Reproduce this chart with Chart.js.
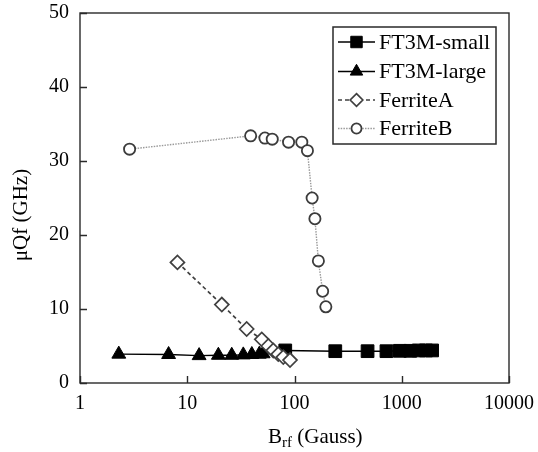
<!DOCTYPE html>
<html>
<head>
<meta charset="utf-8">
<script src="https://cdn.jsdelivr.net/npm/chart.js"></script>
<style>
  html, body { margin: 0; padding: 0; background: #fff; }
  #wrap { width: 538px; height: 452px; }
</style>
</head>
<body>
<div id="wrap"><canvas id="c" width="538" height="452"></canvas></div>
<script>
// ---- data ----
const seriesNames = ["FT3M-small", "FT3M-large", "FerriteA", "FerriteB"];

const ft3mSmallX = [82, 240, 480, 720, 960, 1200, 1440, 1680, 1920];
const ft3mSmallY = [4.4, 4.3, 4.3, 4.3, 4.35, 4.35, 4.4, 4.4, 4.4];

const ft3mLargeX = [2.3, 6.7, 12.9, 19.5, 26, 33.3, 40, 47, 51];
const ft3mLargeY = [3.9, 3.85, 3.7, 3.75, 3.75, 3.8, 3.85, 3.9, 3.95];

const ferriteAX = [8.1, 21, 35.8, 49.5, 57, 63.4, 70.6, 78.6, 90.8];
const ferriteAY = [16.3, 10.6, 7.3, 5.9, 5.0, 4.4, 3.9, 3.5, 3.1];

const ferriteBX = [2.9, 39, 53, 62, 88, 117, 132, 146, 155, 167, 183, 196];
const ferriteBY = [31.6, 33.4, 33.1, 32.95, 32.55, 32.55, 31.4, 25.0, 22.2, 16.5, 12.4, 10.3];

const xTickValues = [1, 10, 100, 1000, 10000];
const yTickValues = [0, 10, 20, 30, 40, 50];

const yTitle = "μQf (GHz)";
const xTitleMain = "B";
const xTitleSub = "rf";
const xTitleRest = " (Gauss)";

// ---- build ----
function pts(xs, ys) { return xs.map((x, i) => ({ x: x, y: ys[i] })); }

const FONT = "'Liberation Serif', 'Times New Roman', serif";
const AXIS_COLOR = "#2a2a2a";

const datasets = [
  {
    label: seriesNames[0], data: pts(ft3mSmallX, ft3mSmallY),
    borderColor: "#000", backgroundColor: "#000", borderWidth: 1.6,
    pointStyle: "rect", pointRadius: 9, pointBackgroundColor: "#000",
    pointBorderColor: "#000", pointBorderWidth: 1, order: 2
  },
  {
    label: seriesNames[1], data: pts(ft3mLargeX, ft3mLargeY),
    borderColor: "#000", backgroundColor: "#000", borderWidth: 1.4,
    pointStyle: "triangle", pointRadius: 8, pointBackgroundColor: "#000",
    pointBorderColor: "#000", pointBorderWidth: 1, order: 3
  },
  {
    label: seriesNames[2], data: pts(ferriteAX, ferriteAY),
    borderColor: "#404040", backgroundColor: "#fff", borderWidth: 1.7,
    borderDash: [4, 3],
    pointStyle: "rectRot", pointRadius: 7, pointBackgroundColor: "#fff",
    pointBorderColor: "#404040", pointBorderWidth: 1.7, order: 1
  },
  {
    label: seriesNames[3], data: pts(ferriteBX, ferriteBY),
    borderColor: "#9a9a9a", backgroundColor: "#fff", borderWidth: 1.4,
    borderDash: [1.5, 1.2],
    pointStyle: "circle", pointRadius: 5.6, pointBackgroundColor: "#fff",
    pointBorderColor: "#3c3c3c", pointBorderWidth: 1.8, order: 4
  }
];

function drawMarker(ctx, style, x, y, r, fill, stroke, lw) {
  ctx.save();
  ctx.beginPath();
  if (style === "rect") {
    const s = Math.SQRT1_2 * r;
    ctx.rect(x - s, y - s, 2 * s, 2 * s);
  } else if (style === "triangle") {
    ctx.moveTo(x, y - r);
    ctx.lineTo(x + r * Math.cos(Math.PI / 6), y + r * 0.5);
    ctx.lineTo(x - r * Math.cos(Math.PI / 6), y + r * 0.5);
    ctx.closePath();
  } else if (style === "rectRot") {
    ctx.moveTo(x, y - r); ctx.lineTo(x + r, y); ctx.lineTo(x, y + r); ctx.lineTo(x - r, y);
    ctx.closePath();
  } else {
    ctx.arc(x, y, r, 0, Math.PI * 2);
  }
  ctx.fillStyle = fill; ctx.fill();
  ctx.lineWidth = lw; ctx.strokeStyle = stroke; ctx.setLineDash([]); ctx.stroke();
  ctx.restore();
}

const decorPlugin = {
  id: "decor",
  afterDatasetsDraw(chart) {
    const ctx = chart.ctx;
    const a = chart.chartArea;
    const xs = chart.scales.x, ys = chart.scales.y;
    ctx.save();
    // frame
    ctx.strokeStyle = AXIS_COLOR;
    ctx.lineWidth = 1.4;
    ctx.setLineDash([]);
    ctx.strokeRect(a.left, a.top, a.right - a.left, a.bottom - a.top);
    // inward ticks
    ctx.beginPath();
    xTickValues.forEach(v => {
      const px = Math.round(xs.getPixelForValue(v)) + 0.5;
      ctx.moveTo(px, a.bottom); ctx.lineTo(px, a.bottom - 7);
    });
    yTickValues.forEach(v => {
      const py = Math.round(ys.getPixelForValue(v)) + 0.5;
      ctx.moveTo(a.left, py); ctx.lineTo(a.left + 7, py);
    });
    ctx.stroke();

    // legend
    const bx = 333, by = 27, bw = 163, bh = 117;
    ctx.fillStyle = "#fff";
    ctx.fillRect(bx, by, bw, bh);
    ctx.lineWidth = 1.5;
    ctx.strokeStyle = AXIS_COLOR;
    ctx.strokeRect(bx, by, bw, bh);
    const rowsY = [42, 71.5, 100, 128.5];
    ctx.font = "22px " + FONT;
    ctx.textBaseline = "middle";
    ctx.textAlign = "left";
    chart.data.datasets.forEach((ds, i) => {
      const y = rowsY[i];
      ctx.save();
      ctx.beginPath();
      ctx.strokeStyle = ds.borderColor;
      ctx.lineWidth = ds.borderWidth;
      ctx.setLineDash(ds.borderDash || []);
      ctx.moveTo(338, y); ctx.lineTo(375, y);
      ctx.stroke();
      ctx.restore();
      drawMarker(ctx, ds.pointStyle, 356.5, y, ds.pointRadius * 0.9,
        ds.pointBackgroundColor, ds.pointBorderColor, ds.pointBorderWidth);
      ctx.fillStyle = "#000";
      ctx.fillText(ds.label, 379, y + 1);
    });

    // x title with subscript
    ctx.fillStyle = "#000";
    ctx.textBaseline = "alphabetic";
    ctx.font = "21px " + FONT;
    let tx = 268;
    const base = 443;
    ctx.fillText(xTitleMain, tx, base);
    tx += ctx.measureText(xTitleMain).width;
    ctx.font = "15px " + FONT;
    ctx.fillText(xTitleSub, tx, base + 4);
    tx += ctx.measureText(xTitleSub).width;
    ctx.font = "21px " + FONT;
    ctx.fillText(xTitleRest, tx, base);

    // y title
    ctx.save();
    ctx.translate(21, 215);
    ctx.rotate(-Math.PI / 2);
    ctx.textAlign = "center";
    ctx.textBaseline = "middle";
    ctx.font = "21px " + FONT;
    ctx.fillText(yTitle, 0, 0);
    ctx.restore();

    ctx.restore();
  }
};

new Chart(document.getElementById("c"), {
  type: "scatter",
  data: { datasets: datasets.map(d => Object.assign({ showLine: true, fill: false, tension: 0, clip: false }, d)) },
  options: {
    responsive: false,
    animation: false,
    devicePixelRatio: 1,
    layout: { padding: { left: 0, right: 29, top: 13, bottom: 0 } },
    plugins: { legend: { display: false }, tooltip: { enabled: false }, title: { display: false } },
    scales: {
      x: {
        type: "logarithmic", min: 1, max: 10000,
        afterBuildTicks(s) { s.ticks = xTickValues.map(v => ({ value: v })); },
        afterFit(s) { s.height = 69; s.paddingLeft = 0; s.paddingRight = 0; s.paddingTop = 0; s.paddingBottom = 0; },
        grid: { display: false, drawTicks: false },
        border: { display: false },
        ticks: {
          color: "#000", font: { family: FONT, size: 20 }, padding: 9,
          maxRotation: 0, autoSkip: false,
          callback: v => String(v)
        }
      },
      y: {
        type: "linear", min: 0, max: 50,
        afterBuildTicks(s) { s.ticks = yTickValues.map(v => ({ value: v })); },
        afterFit(s) { s.width = 80; s.paddingLeft = 0; s.paddingRight = 0; s.paddingTop = 0; s.paddingBottom = 0; },
        grid: { display: false, drawTicks: false },
        border: { display: false },
        ticks: {
          color: "#000", font: { family: FONT, size: 20 }, padding: 11,
          callback: v => String(v)
        }
      }
    }
  },
  plugins: [decorPlugin]
});
</script>
</body>
</html>
